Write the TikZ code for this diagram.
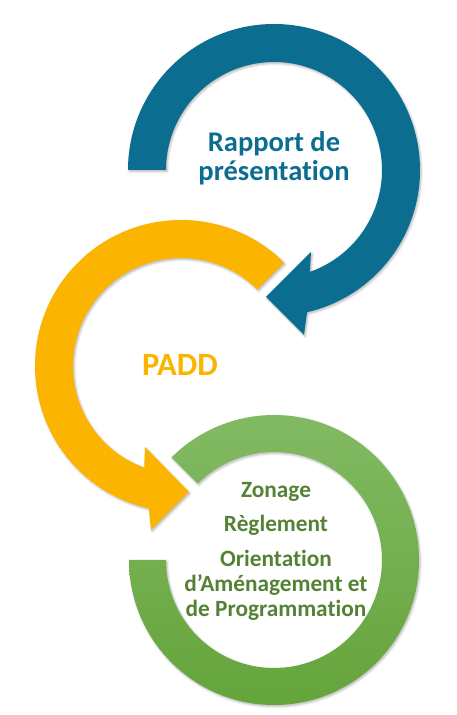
\documentclass[tikz,border=0pt]{standalone}
\usepackage{fontspec}
\setmainfont{Carlito}[Ligatures={NoCommon,NoContextual}]
\usetikzlibrary{calc,shadows.blur}
\definecolor{cblue}{HTML}{0B6E91}
\definecolor{cyellow}{HTML}{FBB400}
\definecolor{cgreentop}{HTML}{82BA63}
\definecolor{cgreenbot}{HTML}{65A43B}
\definecolor{cgreentext}{HTML}{548235}
\tikzset{
  arrowshape/.style={blur shadow={shadow xshift=1.2pt,shadow yshift=-1.6pt,shadow blur radius=2.2pt,shadow opacity=28}},
  bluetext/.style={text=cblue,font=\bfseries\fontsize{28.5}{30}\selectfont,anchor=base,inner sep=0pt},
  padd/.style={text=cyellow,font=\bfseries\fontsize{32.5}{34}\selectfont,anchor=base,inner sep=0pt},
  greentext/.style={text=cgreentext,font=\bfseries\fontsize{23.3}{25}\selectfont,anchor=base,inner sep=0pt}
}
\begin{document}
\begin{tikzpicture}[x=1pt,y=1pt]
\useasboundingbox (0,0) rectangle (456,715);
\coordinate (bc) at (274,545);
\coordinate (yc) at (181,349);
\coordinate (gc) at (274,155);
% blue circular arrow
\fill[cblue,arrowshape] ($(bc)+(180:146)$) arc[start angle=180,end angle=-76.9,radius=146]
  -- (304,380) -- (266,418) -- (311,463)
  -- ($(bc)+(-70.6:108)$) arc[start angle=-70.6,end angle=180,radius=108] -- cycle;
% yellow circular arrow
\fill[cyellow,arrowshape] ($(yc)+(45:146)$) arc[start angle=45,end angle=257.3,radius=146]
  -- (151,185) -- (189,223) -- (145,268)
  -- ($(yc)+(250.1:108)$) arc[start angle=250.1,end angle=45,radius=108] -- cycle;
% green ring
\shade[top color=cgreentop,bottom color=cgreenbot,arrowshape] ($(gc)+(180:145)$) arc[start angle=180,end angle=495,radius=145]
  -- ($(gc)+(495:108)$) arc[start angle=495,end angle=180,radius=108] -- cycle;
% texts
\node[bluetext] (rap) at (274,563) {Rapport de};
\node[bluetext] (pres) at (274,534) {présentation};
\node[padd] (padd) at (180,339) {PADD};
\node[greentext] (zon) at (276,217) {Zonage};
\node[greentext] (reg) at (276,183) {Règlement};
\node[greentext] (ori) at (276,148) {Orientation};
\node[greentext] (ame) at (276,123) {d’Aménagement et};
\node[greentext] (prog) at (276,98) {de Programmation};
\end{tikzpicture}
\end{document}
